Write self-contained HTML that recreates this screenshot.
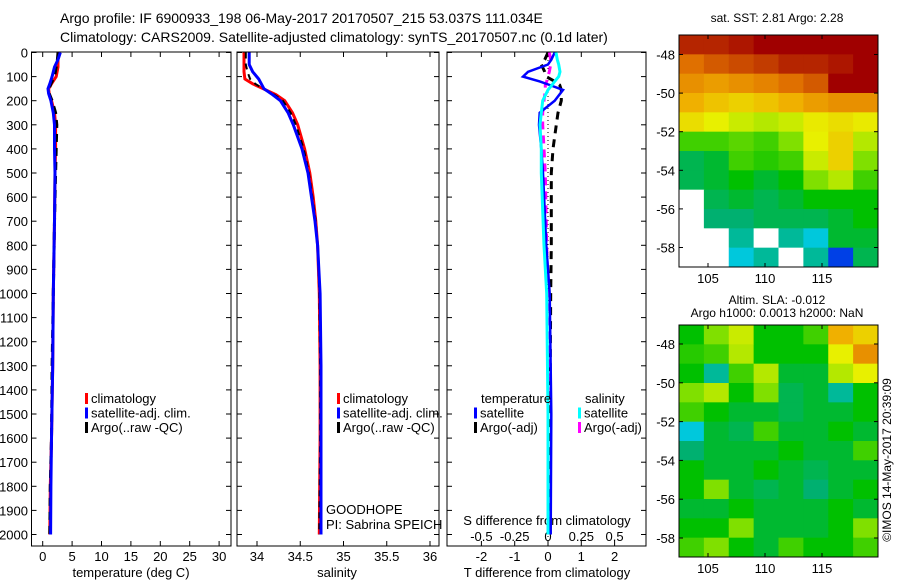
<!DOCTYPE html>
<html><head><meta charset="utf-8"><style>
body{margin:0;background:#fff;width:900px;height:580px;overflow:hidden;font-family:"Liberation Sans",sans-serif}
svg text{font-family:"Liberation Sans",sans-serif;fill:#000}
</style></head><body>
<svg id="fig" width="900" height="580" viewBox="0 0 900 580" xmlns="http://www.w3.org/2000/svg">
<text x="60" y="23" font-size="14">Argo profile: IF 6900933_198 06-May-2017 20170507_215 53.037S 111.034E</text>
<text x="60" y="42" font-size="14">Climatology: CARS2009. Satellite-adjusted climatology: synTS_20170507.nc (0.1d later)</text>
<g id="g"></g>
</svg>
<script>
// ---- data ----
const depthT=[0,30,60,100,130,150,170,200,250,300,400,500,700,1000,1300,1600,1800,2000];
const tempClim=[2.7,2.6,2.6,2.3,1.5,1.0,1.1,1.5,2.0,2.2,2.2,2.1,2.0,1.8,1.7,1.5,1.3,1.2];
const tempSat=[3.0,2.6,2.0,1.6,1.2,0.9,1.0,1.4,1.8,2.0,2.0,2.1,2.0,1.8,1.7,1.5,1.4,1.35];
const tempArgo=[2.6,2.5,2.3,2.0,1.4,1.1,1.1,1.6,2.2,2.4,2.3,2.2,2.0,1.8,1.6,1.5,1.3,1.2];
const depthS=[0,50,80,110,130,150,175,200,250,300,400,500,600,700,800,1000,1300,1600,2000];
const salClim=[33.85,33.85,33.85,33.86,33.95,34.07,34.22,34.32,34.41,34.47,34.55,34.61,34.65,34.68,34.70,34.72,34.73,34.73,34.72];
const salSat=[33.91,33.91,33.95,34.02,34.05,34.08,34.18,34.27,34.36,34.42,34.52,34.59,34.63,34.67,34.70,34.73,34.74,34.74,34.74];
const salArgo=[33.87,33.87,33.89,33.92,33.98,34.07,34.2,34.3,34.39,34.45,34.54,34.6,34.64,34.68,34.7,34.72,34.73,34.73,34.72];
const depthD=[0,30,50,80,100,120,135,155,200,250,300,400,500,800,1000,1500,2000];
const dTsat=[0.2,0.1,0.0,-0.6,-0.75,-0.25,0.05,0.45,0.2,-0.25,-0.27,-0.2,-0.15,-0.05,0.05,0.1,0.08];
const dSsat=[0.06,0.07,0.08,0.09,0.08,0.05,0.03,0.0,-0.04,-0.05,-0.06,-0.05,-0.05,-0.03,-0.01,0.0,0.0];
const dTargo=[0.0,-0.1,-0.2,-0.1,-0.05,0.2,0.35,0.4,0.4,0.3,0.25,0.15,0.1,0.1,0.08,0.06,0.05];
const dSargo=[0.01,0.02,0.02,0.01,0.0,-0.01,-0.02,-0.02,-0.03,-0.04,-0.04,-0.03,-0.02,-0.01,0.0,0.0,0.0];
const depthTicks=[0,100,200,300,400,500,600,700,800,900,1000,1100,1200,1300,1400,1500,1600,1700,1800,1900,2000];
const tempTicks=[0,5,10,15,20,25,30];
const salTicks=[34,34.5,35,35.5,36];
const tdTicks=[-2,-1,0,1,2];
const sdTicks=[-0.5,-0.25,0,0.25,0.5];
const latTicks=[-48,-50,-52,-54,-56,-58];
const lonTicks=[105,110,115];
const sstGrid=[
[0.95,0.95,0.97,1,1,1,1,1],
[0.85,0.88,0.9,0.92,0.95,0.95,0.97,1],
[0.8,0.78,0.8,0.82,0.85,0.88,1,1],
[0.75,0.72,0.7,0.72,0.75,0.78,0.8,0.8],
[0.68,0.65,0.62,0.6,0.62,0.66,0.68,0.66],
[0.5,0.5,0.52,0.5,0.55,0.65,0.7,0.6],
[0.4,0.42,0.5,0.48,0.5,0.62,0.7,0.55],
[0.4,0.42,0.45,0.42,0.45,0.55,0.6,0.5],
[null,0.4,0.42,0.4,0.42,0.45,0.45,0.45],
[null,0.38,0.38,0.4,0.4,0.4,0.42,0.45],
[null,null,0.35,null,0.35,0.3,0.42,0.42],
[null,null,0.3,0.35,null,0.35,0.12,0.4]];
const slaGrid=[
[0.45,0.55,0.62,0.45,0.45,0.5,0.75,0.7],
[0.48,0.5,0.6,0.45,0.45,0.45,0.65,0.8],
[0.45,0.35,0.5,0.6,0.42,0.42,0.6,0.65],
[0.55,0.6,0.45,0.55,0.4,0.42,0.35,0.45],
[0.5,0.45,0.42,0.42,0.4,0.42,0.42,0.45],
[0.3,0.42,0.4,0.5,0.42,0.42,0.45,0.42],
[0.38,0.42,0.42,0.42,0.45,0.42,0.42,0.5],
[0.45,0.42,0.42,0.45,0.42,0.4,0.42,0.42],
[0.45,0.55,0.42,0.4,0.42,0.38,0.42,0.45],
[0.42,0.42,0.45,0.42,0.42,0.42,0.45,0.42],
[0.45,0.45,0.55,0.42,0.42,0.42,0.45,0.55],
[0.5,0.55,0.45,0.42,0.5,0.45,0.45,0.5]];

// ---- axes ----
const NS='http://www.w3.org/2000/svg';
const G=document.getElementById('g');
function mk(tag,at,parent){const e=document.createElementNS(NS,tag);for(const k in at)e.setAttribute(k,at[k]);(parent||G).appendChild(e);return e;}
const yD=d=>52.5+d*0.241;
const xT=t=>42.7+t*5.88;
const xS=s=>257+(s-34)*86.5;
const xTD=v=>548+v*33.3;
const xSD=v=>548+v*133.2;
const TOP=52,BOT=546;

function panel(x0,x1,name){
  const r=mk('rect',{x:x0,y:TOP,width:x1-x0,height:BOT-TOP,fill:'none',stroke:'#000','stroke-width':1});
  
  
  depthTicks.forEach(d=>{const y=yD(d);
    mk('line',{x1:x0,y1:y,x2:x0+5,y2:y,stroke:'#000'});
    mk('line',{x1:x1,y1:y,x2:x1-5,y2:y,stroke:'#000'});});
}
panel(31.5,231,'temperature-panel');
panel(237,439,'salinity-panel');
panel(447,646,'difference-panel');
depthTicks.forEach(d=>{
  const t=mk('text',{x:28,y:yD(d)+5,'font-size':13,'text-anchor':'end'});
  
  
  t.textContent=d;});
function xticks(ticks,fx,y,lab){ticks.forEach(v=>{const x=fx(v);
  mk('line',{x1:x,y1:TOP,x2:x,y2:TOP+5,stroke:'#000'});
  mk('line',{x1:x,y1:BOT,x2:x,y2:BOT-5,stroke:'#000'});
  const t=mk('text',{x:x,y:y,'font-size':13,'text-anchor':'middle'});
  
  
  t.textContent=lab?lab(v):v;});}
xticks(tempTicks,xT,561);
xticks(salTicks,xS,561);
xticks(tdTicks,xTD,561);
sdTicks.forEach(v=>{const t=mk('text',{x:xSD(v),y:541,'font-size':13,'text-anchor':'middle'});
  
  
  t.textContent=v;});
function txt(x,y,s,name,anchor,size){const t=mk('text',{x:x,y:y,'font-size':size||13,'text-anchor':anchor||'start'});
  
  
  t.textContent=s;return t;}
txt(131,577,'temperature (deg C)','temperature-axis-title','middle');
txt(337,577,'salinity','salinity-axis-title','middle');
txt(547,577,'T difference from climatology','t-diff-axis-title','middle');
txt(547,525,'S difference from climatology','s-diff-axis-title','middle');
txt(326,514,'GOODHOPE','project-label');
txt(326,529,'PI: Sabrina SPEICH','pi-label');
mk('line',{x1:548,y1:TOP,x2:548,y2:BOT,stroke:'#000','stroke-dasharray':'1,3'});

function line(xs,ds,fx,color,w,dash,name){
  const pts=xs.map((v,i)=>fx(v).toFixed(1)+','+yD(ds[i]).toFixed(1)).join(' ');
  const p=mk('polyline',{points:pts,fill:'none',stroke:color,'stroke-width':w,'stroke-dasharray':dash||'none'});
  
  }
line(tempClim,depthT,xT,'#f00',3,null,'temp-climatology-line');
line(tempArgo,depthT,xT,'#000',3,'8,6','temp-argo-line');
line(tempSat,depthT,xT,'#00f',3,null,'temp-satellite-line');
line(salClim,depthS,xS,'#f00',3,null,'sal-climatology-line');
line(salArgo,depthS,xS,'#000',2,'6,5','sal-argo-line');
line(salSat,depthS,xS,'#00f',3,null,'sal-satellite-line');
line(dTargo,depthD,xTD,'#000',3,'8,6','tdiff-argo-line');
line(dSargo,depthD,xSD,'#f0f',3,'8,6','sdiff-argo-line');
line(dTsat,depthD,xTD,'#00f',2.5,null,'tdiff-satellite-line');
line(dSsat,depthD,xSD,'#0ff',3,null,'sdiff-satellite-line');

function leg(x,y,color,label,name){
  const r=mk('rect',{x:x,y:y-10,width:3,height:11,fill:color});
  
  
  txt(x+6,y,label,name);}
[[85,'climatology','#f00'],[85,'satellite-adj. clim.','#00f'],[85,'Argo(..raw -QC)','#000']].forEach((a,i)=>leg(a[0],403+i*14.5,a[2],a[1],'temp-legend-entry'));
[[337,'climatology','#f00'],[337,'satellite-adj. clim.','#00f'],[337,'Argo(..raw -QC)','#000']].forEach((a,i)=>leg(a[0],403+i*14.5,a[2],a[1],'sal-legend-entry'));
txt(481,403,'temperature','diff-legend-temperature-header');
txt(585,403,'salinity','diff-legend-salinity-header');
leg(474,417.5,'#00f','satellite','diff-legend-t-satellite');
leg(474,432,'#000','Argo(-adj)','diff-legend-t-argo');
leg(578,417.5,'#0ff','satellite','diff-legend-s-satellite');
leg(578,432,'#f0f','Argo(-adj)','diff-legend-s-argo');

// ---- maps ----
const cmapStops=[[0,[0,0,128]],[0.15,[0,80,255]],[0.3,[0,200,220]],[0.38,[0,176,112]],[0.45,[0,192,0]],[0.55,[128,224,0]],[0.65,[232,240,0]],[0.75,[240,176,0]],[0.85,[224,112,0]],[1,[160,0,0]]];
function cmap(v){for(let i=1;i<cmapStops.length;i++){const a=cmapStops[i-1],b=cmapStops[i];
  if(v<=b[0]){const f=(v-a[0])/(b[0]-a[0]);return 'rgb('+a[1].map((c,k)=>Math.round(c+(b[1][k]-c)*f)).join(',')+')';}}
  return 'rgb(160,0,0)';}
function map(grid,x0,x1,y0,y1,lat48,lat58,name){
  const rows=grid.length,cols=grid[0].length,cw=(x1-x0)/cols,rh=(y1-y0)/rows;
  grid.forEach((row,i)=>row.forEach((v,j)=>{
    const r=mk('rect',{x:x0+j*cw,y:y0+i*rh,width:cw+0.5,height:rh+0.5,fill:v===null?'#fff':cmap(v)});
    
    }));
  const f=mk('rect',{x:x0,y:y0,width:x1-x0,height:y1-y0,fill:'none',stroke:'#000'});
  
  
  const yl=l=>lat48+(l+48)/(-10)*(lat58-lat48);
  latTicks.forEach(l=>{const y=yl(l);
    mk('line',{x1:x0,y1:y,x2:x0+4,y2:y,stroke:'#000'});mk('line',{x1:x1,y1:y,x2:x1-4,y2:y,stroke:'#000'});
    txt(x0-4,y+5,l,'lat-tick-label','end',13);});
  const xl=o=>708+(o-105)*11.4;
  lonTicks.forEach(o=>{const x=xl(o);
    mk('line',{x1:x,y1:y0,x2:x,y2:y0+4,stroke:'#000'});mk('line',{x1:x,y1:y1,x2:x,y2:y1-4,stroke:'#000'});
    txt(x,y1+16,o,'lon-tick-label','middle',13);});
}
map(sstGrid,679,878,35,267,54.5,247.5,'sst-map');
map(slaGrid,679,878,325,557,344,538,'sla-map');
txt(777,22,'sat. SST: 2.81 Argo: 2.28','sst-map-title','middle',12);
txt(777,304,'Altim. SLA: -0.012','sla-map-title','middle',12);
txt(777,317,'Argo h1000: 0.0013 h2000: NaN','sla-map-subtitle','middle',12);
const c=txt(0,0,'©IMOS 14-May-2017 20:39:09','imos-credit','middle',12);
c.setAttribute('transform','translate(891,460) rotate(-90)');
</script>
</body></html>
